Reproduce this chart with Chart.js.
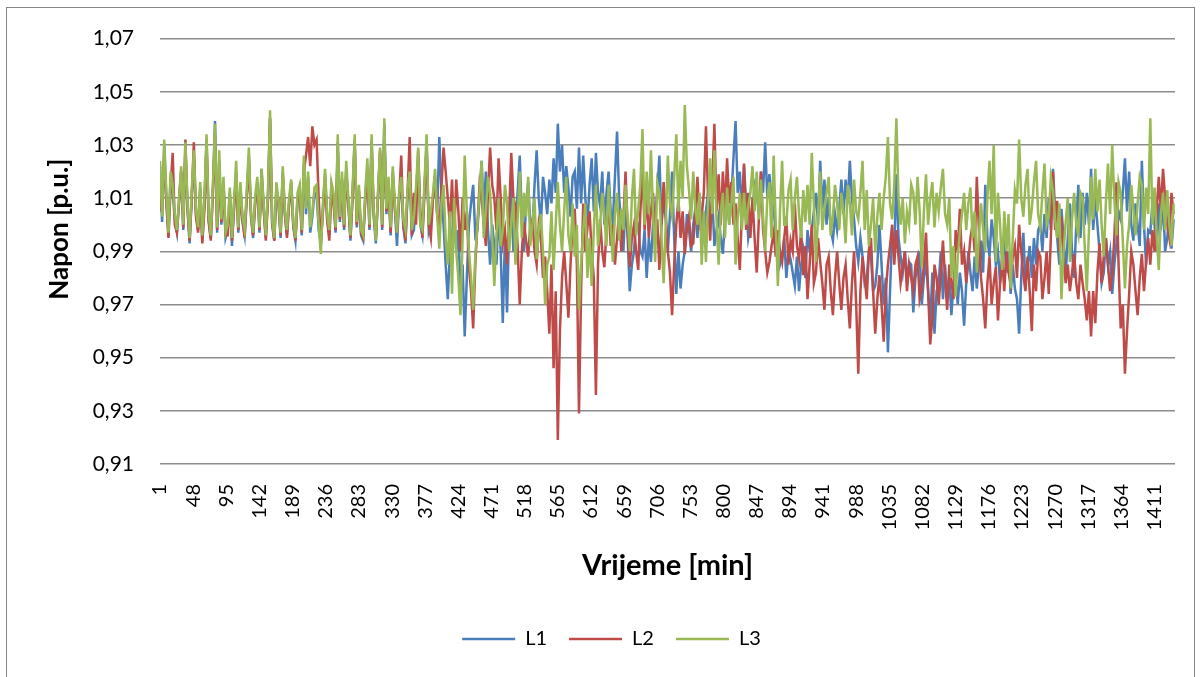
<!DOCTYPE html>
<html>
<head>
<meta charset="utf-8">
<script src="https://cdn.jsdelivr.net/npm/chart.js@4/dist/chart.umd.min.js"></script>
<style>
  body { margin: 0; background: #fff; }
  canvas { display: block; }
</style>
</head>
<body>
<canvas id="chart" width="1201" height="677"></canvas>
<script>
// one sample every 3 minutes (minute 1 .. 1438)
const stepMin = 3
const seriesNames = ['L1', 'L2', 'L3']

const l1 = [
  1.022, 1.001, 1.030, 1.010, 0.996, 1.018, 1.012, 1.002, 0.997, 1.008, 1.020, 0.998, 1.028, 1.006, 0.993, 1.011, 1.025, 1.004, 0.998, 1.014,
  0.994, 1.008, 1.032, 1.002, 0.995, 1.013, 1.039, 0.997, 1.024, 1.000, 1.015, 0.995, 0.998, 1.012, 0.992, 1.007, 1.020, 0.997, 1.014, 1.001,
  0.996, 1.011, 1.026, 1.003, 0.995, 1.009, 1.015, 0.997, 1.021, 1.006, 0.995, 1.010, 1.040, 1.000, 0.994, 1.014, 1.007, 0.995, 1.020, 1.004,
  0.996, 1.008, 1.014, 0.999, 0.994, 1.010, 1.012, 0.996, 1.023, 1.004, 1.018, 0.997, 1.003, 1.012, 1.012, 0.998, 0.993, 1.006, 1.019, 1.002,
  0.996, 1.014, 1.010, 0.997, 1.031, 1.001, 1.017, 0.998, 1.021, 1.008, 0.994, 1.011, 1.032, 0.999, 1.012, 0.996, 0.994, 1.010, 1.022, 0.998,
  1.032, 1.003, 0.993, 1.010, 1.027, 0.998, 1.038, 1.004, 1.015, 0.996, 1.020, 1.006, 0.992, 1.010, 1.015, 0.999, 0.993, 1.012, 1.018, 0.996,
  0.998, 1.012, 1.025, 1.000, 0.996, 1.014, 1.030, 0.998, 1.002, 1.010, 1.018, 1.004, 1.033, 1.012, 1.000, 0.985, 0.972, 0.990, 0.995, 1.008,
  0.990, 0.998, 0.975, 0.985, 0.958, 0.980, 1.000, 1.008, 1.015, 0.996, 0.998, 1.010, 1.024, 1.004, 1.020, 0.998, 0.985, 1.000, 0.992, 0.985,
  1.005, 0.990, 0.963, 0.995, 0.967, 1.000, 1.018, 0.990, 1.000, 1.012, 1.026, 1.002, 0.990, 1.008, 1.016, 1.000, 0.998, 1.015, 1.028, 1.010,
  1.000, 1.018, 1.012, 1.004, 1.017, 1.008, 1.025, 1.012, 1.038, 1.020, 1.030, 1.012, 1.022, 1.014, 1.003, 1.018, 1.020, 1.006, 1.029, 1.008,
  1.026, 1.010, 1.000, 1.015, 1.025, 1.005, 1.027, 1.012, 1.007, 1.020, 1.000, 1.012, 1.020, 1.005, 1.001, 1.018, 1.035, 1.010, 1.000, 0.990,
  1.010, 0.995, 0.975, 0.985, 0.990, 1.002, 1.000, 0.990, 0.988, 0.998, 0.980, 0.995, 0.986, 1.000, 1.005, 1.012, 1.026, 1.000, 1.010, 1.002,
  0.990, 1.004, 1.020, 0.995, 0.974, 0.990, 0.976, 0.985, 0.990, 1.004, 0.998, 0.990, 1.000, 1.006, 0.995, 1.010, 1.002, 0.996, 1.005, 1.012,
  1.000, 1.010, 0.992, 0.998, 1.003, 0.995, 0.989, 1.002, 1.010, 1.000, 1.010, 1.025, 1.039, 1.012, 1.020, 1.005, 1.022, 1.008, 0.995, 1.000,
  1.005, 1.015, 1.012, 1.004, 1.020, 1.012, 1.031, 1.010, 1.019, 1.010, 1.005, 0.998, 0.995, 0.985, 0.988, 0.995, 0.980, 0.990, 0.987, 0.982,
  0.977, 0.988, 0.975, 0.985, 0.990, 0.980, 0.998, 0.990, 0.998, 1.005, 1.012, 1.000, 1.024, 1.006, 1.017, 1.000, 1.010, 0.998, 0.994, 1.004,
  0.998, 1.006, 1.017, 1.004, 1.017, 1.008, 1.024, 1.010, 1.002, 0.992, 0.986, 0.995, 0.988, 0.978, 0.980, 0.990, 0.988, 0.975, 0.977, 0.985,
  1.000, 0.985, 0.970, 0.980, 0.952, 0.975, 0.997, 0.990, 1.019, 0.995, 0.988, 0.982, 0.990, 0.978, 0.986, 0.985, 0.967, 0.980, 0.984, 0.990,
  0.970, 0.980, 0.986, 0.975, 0.963, 0.982, 0.959, 0.975, 0.978, 0.990, 0.972, 0.985, 0.972, 0.980, 0.966, 0.978, 0.980, 0.970, 0.982, 0.975,
  0.962, 0.978, 0.990, 0.982, 0.975, 0.988, 0.976, 0.985, 0.994, 0.982, 1.015, 0.995, 0.988, 1.002, 0.995, 0.985, 0.990, 0.978, 0.988, 0.995,
  0.982, 0.990, 0.974, 0.985, 0.976, 0.972, 0.959, 0.980, 0.997, 0.978, 0.985, 0.992, 0.980, 0.995, 0.985, 0.998, 1.000, 0.990, 1.004, 0.995,
  1.010, 0.998, 1.021, 1.005, 0.995, 0.985, 1.006, 0.995, 0.981, 0.995, 1.008, 0.990, 0.980, 1.000, 1.015, 0.995, 1.012, 1.000, 1.012, 1.000,
  1.021, 0.998, 1.010, 1.000, 0.990, 0.978, 0.982, 0.995, 0.985, 0.990, 0.974, 0.985, 0.993, 1.005, 1.002, 1.012, 1.025, 1.005, 1.020, 1.000,
  0.994, 1.008, 1.000, 0.992, 1.024, 1.000, 0.985, 0.998, 0.997, 1.008, 1.000, 0.990, 1.008, 0.998, 1.010, 0.990, 0.995, 1.005, 0.991, 1.002
]

const l2 = [
  1.005, 1.012, 1.025, 1.008, 0.995, 1.014, 1.027, 1.000, 0.997, 1.009, 1.020, 0.999, 1.032, 1.006, 0.994, 1.010, 1.031, 1.003, 0.997, 1.012,
  0.993, 1.006, 1.030, 1.001, 0.994, 1.012, 1.034, 0.998, 1.020, 1.001, 1.016, 0.996, 0.996, 1.010, 0.994, 1.006, 1.018, 0.998, 1.012, 1.002,
  0.995, 1.010, 1.024, 1.004, 0.996, 1.008, 1.016, 0.998, 1.018, 1.006, 0.994, 1.009, 1.040, 1.001, 0.994, 1.012, 1.010, 0.996, 1.019, 1.005,
  0.995, 1.008, 1.016, 1.000, 0.994, 1.009, 1.013, 0.997, 1.020, 1.026, 1.033, 1.022, 1.037, 1.030, 1.032, 1.010, 0.993, 1.005, 1.017, 1.002,
  0.994, 1.012, 1.008, 0.998, 1.028, 1.002, 1.017, 0.999, 1.020, 1.008, 0.995, 1.010, 1.031, 1.000, 1.013, 0.997, 0.995, 1.009, 1.020, 0.999,
  1.030, 1.004, 0.995, 1.010, 1.028, 0.999, 1.034, 1.005, 1.016, 0.997, 1.019, 1.006, 0.997, 1.010, 1.026, 1.000, 0.994, 1.012, 1.033, 0.996,
  1.012, 1.000, 1.028, 1.006, 0.995, 1.012, 1.030, 1.000, 0.995, 1.010, 1.016, 1.004, 0.998, 1.014, 1.029, 1.020, 1.010, 1.000, 1.017, 0.995,
  1.017, 1.005, 0.990, 1.010, 0.998, 1.005, 0.984, 0.975, 0.961, 0.985, 1.000, 1.015, 1.010, 1.000, 0.992, 1.012, 1.029, 1.015, 1.010, 0.998,
  1.025, 1.010, 0.993, 0.998, 0.985, 1.004, 1.027, 1.010, 1.007, 0.992, 0.970, 0.990, 1.001, 0.994, 0.988, 1.000, 1.002, 0.990, 0.985, 1.000,
  0.995, 0.980, 0.988, 0.975, 0.959, 0.985, 0.946, 0.975, 0.919, 0.960, 0.980, 0.990, 0.978, 0.965, 0.985, 1.000, 1.006, 0.985, 0.929, 0.975,
  1.008, 0.990, 0.999, 1.005, 0.990, 0.980, 0.936, 0.985, 1.002, 0.990, 0.984, 0.998, 1.008, 0.992, 1.000, 0.985, 0.995, 1.005, 0.990, 1.002,
  1.020, 0.998, 0.984, 0.995, 1.000, 0.990, 0.983, 1.005, 1.022, 0.998, 1.012, 0.995, 1.005, 1.012, 0.995, 1.002, 0.983, 1.000, 1.016, 1.004,
  0.990, 0.982, 0.966, 0.985, 1.000, 1.010, 0.995, 1.005, 0.989, 0.998, 1.003, 0.992, 0.993, 1.005, 1.018, 1.000, 1.003, 1.012, 1.037, 1.010,
  0.994, 1.015, 1.038, 1.005, 1.019, 1.000, 1.020, 1.005, 1.025, 1.008, 1.016, 1.000, 1.008, 0.995, 0.983, 1.005, 1.023, 0.998, 1.012, 0.995,
  1.010, 0.995, 0.982, 1.002, 1.020, 0.998, 0.990, 0.982, 0.986, 0.992, 0.997, 0.988, 0.998, 0.990, 0.986, 0.995, 1.003, 0.985, 0.994, 0.990,
  1.008, 0.992, 0.987, 0.998, 0.981, 0.992, 0.972, 0.985, 1.000, 0.978, 0.982, 0.995, 0.986, 0.978, 0.968, 0.985, 0.988, 0.975, 0.966, 0.980,
  0.990, 0.978, 0.968, 0.980, 0.985, 0.972, 0.961, 0.978, 0.990, 0.970, 0.944, 0.975, 0.988, 0.980, 0.972, 0.990, 0.995, 0.975, 0.959, 0.972,
  0.981, 0.970, 0.956, 0.975, 0.985, 0.992, 1.000, 0.985, 0.998, 0.988, 0.978, 0.984, 0.990, 0.975, 0.985, 0.980, 0.975, 0.985, 0.988, 0.972,
  0.976, 0.985, 0.997, 0.975, 0.955, 0.965, 0.985, 0.980, 0.970, 0.982, 0.994, 0.980, 0.968, 0.985, 0.979, 0.972, 0.998, 0.990, 1.006, 0.985,
  0.990, 0.978, 0.986, 0.995, 1.000, 0.990, 1.018, 0.998, 0.980, 0.972, 0.961, 0.978, 0.988, 0.970, 0.978, 0.984, 0.964, 0.978, 0.987, 0.975,
  0.990, 0.982, 0.978, 0.988, 0.992, 0.980, 1.000, 0.990, 0.981, 0.975, 0.988, 0.975, 0.960, 0.985, 0.975, 0.990, 0.988, 0.972, 0.980, 0.990,
  0.974, 0.995, 1.020, 0.998, 1.009, 0.990, 1.003, 0.988, 0.978, 0.985, 0.975, 0.982, 0.989, 0.978, 0.972, 0.985, 0.978, 0.972, 0.964, 0.975,
  0.958, 0.975, 0.963, 0.982, 0.993, 0.978, 0.988, 0.995, 0.985, 0.975, 0.982, 0.995, 1.016, 0.985, 0.961, 0.970, 0.944, 0.960, 0.974, 0.990,
  0.985, 0.975, 0.966, 0.980, 0.989, 0.975, 0.986, 0.995, 0.985, 0.998, 0.990, 1.005, 1.018, 1.005, 1.021, 1.010, 1.000, 0.995, 1.012, 1.004
]

const l3 = [
  1.024, 1.003, 1.032, 1.012, 0.997, 1.020, 1.015, 1.004, 0.998, 1.010, 1.022, 1.000, 1.031, 1.008, 0.995, 1.013, 1.028, 1.006, 0.999, 1.016,
  0.996, 1.010, 1.034, 1.004, 0.996, 1.015, 1.038, 0.999, 1.028, 1.002, 1.018, 0.997, 1.000, 1.014, 0.995, 1.009, 1.024, 0.999, 1.016, 1.003,
  0.998, 1.013, 1.029, 1.005, 0.997, 1.011, 1.018, 0.999, 1.021, 1.008, 0.996, 1.012, 1.043, 1.002, 0.995, 1.016, 1.009, 0.997, 1.022, 1.006,
  0.998, 1.010, 1.017, 1.001, 0.995, 1.012, 1.015, 0.998, 1.026, 1.006, 1.020, 0.999, 1.005, 1.014, 1.015, 1.000, 0.989, 1.008, 1.021, 1.004,
  0.998, 1.016, 1.012, 0.999, 1.034, 1.003, 1.020, 1.000, 1.024, 1.010, 0.996, 1.013, 1.034, 1.001, 1.015, 0.998, 0.996, 1.012, 1.025, 1.000,
  1.034, 1.005, 0.994, 1.012, 1.029, 1.000, 1.040, 1.006, 1.018, 0.999, 1.022, 1.008, 0.997, 1.012, 1.018, 1.002, 0.998, 1.014, 1.020, 0.998,
  1.003, 1.014, 1.029, 1.000, 0.998, 1.016, 1.034, 1.000, 1.005, 1.012, 1.021, 1.003, 0.991, 1.008, 1.015, 0.995, 0.985, 1.005, 0.974, 1.010,
  0.990, 0.980, 0.966, 0.995, 1.026, 1.005, 0.990, 0.980, 0.968, 0.988, 1.000, 1.012, 1.024, 0.995, 1.005, 1.018, 1.012, 0.995, 0.977, 0.996,
  1.010, 0.992, 0.998, 1.015, 1.008, 0.990, 1.000, 1.010, 0.985, 1.002, 1.020, 0.995, 1.012, 1.003, 1.018, 0.992, 1.000, 1.010, 0.987, 0.998,
  1.004, 0.990, 0.970, 0.985, 0.988, 1.005, 0.983, 1.000, 1.016, 1.000, 0.990, 1.005, 1.018, 0.996, 0.990, 1.008, 0.988, 1.000, 0.968, 0.985,
  0.998, 1.008, 0.980, 0.995, 0.977, 0.998, 1.015, 0.992, 1.000, 1.012, 1.003, 0.992, 1.015, 1.000, 0.986, 1.004, 1.012, 0.994, 1.006, 0.998,
  1.015, 1.002, 0.990, 1.010, 1.021, 0.996, 1.006, 1.015, 1.036, 1.000, 1.020, 1.004, 1.028, 1.005, 0.986, 1.016, 1.012, 0.995, 0.978, 1.000,
  1.026, 1.008, 1.003, 1.018, 1.034, 1.005, 1.024, 1.010, 1.045, 1.022, 1.013, 1.002, 1.020, 1.006, 1.000, 1.012, 0.985, 1.005, 0.986, 1.008,
  1.025, 1.004, 1.028, 1.002, 0.985, 1.005, 1.012, 0.995, 1.014, 1.000, 1.008, 1.018, 0.985, 1.002, 1.012, 0.998, 1.012, 1.000, 1.007, 1.012,
  1.022, 1.005, 1.020, 1.002, 1.017, 1.003, 0.990, 1.010, 1.016, 0.995, 1.026, 1.000, 0.977, 1.005, 1.024, 1.000, 1.000, 1.013, 1.017, 0.998,
  1.010, 1.018, 1.004, 0.995, 1.013, 1.001, 1.015, 1.000, 1.027, 1.008, 0.986, 1.004, 1.020, 0.998, 1.006, 1.012, 1.018, 0.996, 1.003, 1.015,
  1.008, 0.998, 1.012, 1.005, 0.993, 1.015, 1.008, 0.996, 1.017, 1.005, 1.002, 1.012, 1.024, 0.998, 1.013, 0.992, 1.000, 1.010, 0.990, 1.003,
  1.012, 0.998, 1.010, 1.018, 1.033, 1.008, 1.002, 1.015, 1.040, 1.010, 1.000, 1.010, 0.993, 1.005, 1.000, 1.015, 1.012, 1.000, 1.018, 1.005,
  0.984, 1.005, 1.019, 1.000, 1.010, 1.016, 0.999, 1.012, 1.005, 1.014, 1.021, 1.004, 1.000, 1.010, 0.980, 0.992, 0.973, 0.988, 0.997, 1.004,
  1.012, 0.998, 1.008, 1.014, 0.995, 1.005, 0.982, 0.996, 1.008, 0.998, 0.990, 1.010, 1.024, 1.004, 1.030, 0.986, 1.012, 1.000, 0.983, 1.005,
  0.990, 1.004, 0.976, 0.995, 1.013, 1.008, 1.032, 1.010, 1.003, 1.015, 1.021, 1.000, 1.006, 1.016, 1.024, 1.004, 0.999, 1.012, 1.023, 1.000,
  1.003, 1.018, 1.013, 1.002, 0.995, 1.008, 0.972, 0.990, 1.001, 1.010, 0.986, 1.002, 1.012, 1.000, 0.996, 1.012, 1.010, 0.992, 0.975, 0.998,
  1.018, 1.002, 1.021, 1.005, 1.017, 1.000, 0.988, 1.008, 1.023, 1.004, 1.030, 1.010, 0.996, 1.016, 1.012, 0.994, 0.976, 0.992, 1.000, 1.015,
  1.006, 0.996, 1.008, 1.018, 1.015, 0.998, 1.014, 1.004, 1.040, 1.000, 1.014, 0.996, 0.983, 1.004, 1.012, 0.998, 1.013, 1.000, 0.992, 1.008
]

const xTickLabels = [1, 48, 95, 142, 189, 236, 283, 330, 377, 424, 471, 518, 565, 612, 659,
  706, 753, 800, 847, 894, 941, 988, 1035, 1082, 1129, 1176, 1223, 1270, 1317, 1364, 1411]
const yMin = 0.91
const yMax = 1.07
const yStep = 0.02

const colors = ['#4a7ebb', '#be4b48', '#98b954']
const minutes = l1.map((_, i) => 1 + i * stepMin)

Chart.defaults.font.family = 'Lato'
Chart.defaults.color = '#000'

// grey frame round the whole chart, legend nudged to where Excel put it
const frame = {
  id: 'frame',
  afterLayout(chart) {
    chart.legend.left += 24
    chart.legend.right += 24
  },
  beforeDraw(chart) {
    const ctx = chart.ctx
    ctx.save()
    ctx.strokeStyle = '#868686'
    ctx.lineWidth = 1
    ctx.strokeRect(6.5, 7.5, 1188, 700)
    ctx.restore()
  }
}

const toPoints = (vals) => vals.map((v, i) => ({ x: minutes[i], y: v }))

new Chart(document.getElementById('chart'), {
  type: 'line',
  data: {
    datasets: [l1, l2, l3].map((vals, i) => ({
      label: seriesNames[i],
      data: toPoints(vals),
      borderColor: colors[i],
      backgroundColor: colors[i],
      borderWidth: 2.5,
      pointRadius: 0,
      tension: 0,
      order: 3 - i
    }))
  },
  options: {
    responsive: false,
    animation: false,
    layout: { padding: { left: 0, top: 37, right: 26, bottom: 18 } },
    plugins: {
      tooltip: { enabled: false },
      legend: {
        position: 'bottom',
        labels: {
          sort: (a, b) => a.datasetIndex - b.datasetIndex,
          usePointStyle: true,
          pointStyle: 'line',
          pointStyleWidth: 53,
          boxHeight: 18,
          padding: 22,
          font: { size: 20 }
        }
      }
    },
    scales: {
      x: {
        type: 'linear',
        min: 1,
        max: 1440,
        afterBuildTicks: (scale) => {
          scale.ticks = xTickLabels.map(v => ({ value: v }))
        },
        afterFit: (scale) => { scale.height = 143 },
        ticks: {
          autoSkip: false,
          minRotation: 90,
          maxRotation: 90,
          padding: 12,
          font: { size: 20 },
          callback: (v) => String(v)
        },
        grid: { display: false },
        border: { display: false },
        title: {
          display: true,
          text: 'Vrijeme [min]',
          font: { size: 29, weight: 'bold' },
          padding: { top: 0, bottom: 24 }
        }
      },
      y: {
        min: yMin,
        max: yMax,
        afterFit: (scale) => { scale.width = 160 },
        ticks: {
          stepSize: yStep,
          padding: 26,
          font: { size: 21 },
          callback: (v) => v.toFixed(2).replace('.', ',')
        },
        grid: { color: '#8c8c8c', lineWidth: 1.5, drawTicks: false },
        border: { display: false },
        title: {
          display: true,
          // leading no-break spaces lift the text, Excel sits it above centre
          text: '\u00a0'.repeat(7) + 'Napon [p.u.]',
          font: { size: 26, weight: 'bold' },
          padding: { top: 44, bottom: 0 }
        }
      }
    }
  },
  plugins: [frame]
})
</script>
</body>
</html>
